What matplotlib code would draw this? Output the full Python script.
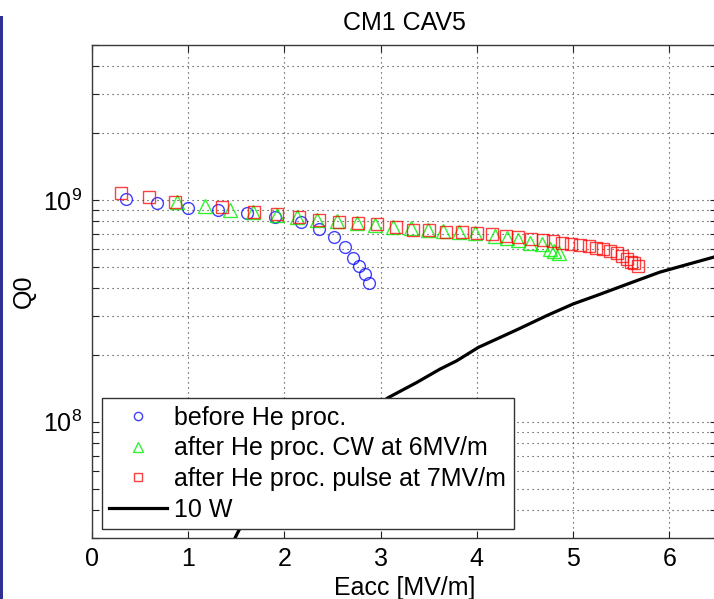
import matplotlib
matplotlib.use("Agg")
import matplotlib.pyplot as plt
from matplotlib.ticker import LogLocator, NullFormatter, FixedLocator
from matplotlib.patches import Rectangle

plt.rcParams['font.family'] = ['Liberation Sans', 'DejaVu Sans']
plt.rcParams['mathtext.fontset'] = 'custom'
plt.rcParams['mathtext.rm'] = 'Liberation Sans'
plt.rcParams['mathtext.it'] = 'Liberation Sans:italic'
plt.rcParams['mathtext.bf'] = 'Liberation Sans:bold'

# ---- data ----
before_x = [0.35, 0.68, 0.995, 1.313, 1.611, 1.905, 2.169, 2.363, 2.516, 2.633, 2.71, 2.779, 2.841, 2.883]
before_q = [1.01e9, 0.972e9, 0.923e9, 0.901e9, 0.876e9, 0.835e9, 0.797e9, 0.741e9, 0.678e9, 0.611e9,
            0.550e9, 0.502e9, 0.462e9, 0.422e9]

cw_x = [0.88, 1.175, 1.435, 1.677, 1.92, 2.128, 2.336, 2.55, 2.751, 2.94, 3.13, 3.313, 3.496, 3.652,
        3.818, 3.981, 4.19, 4.31, 4.43, 4.553, 4.675, 4.76, 4.80, 4.85]
cw_q = [0.976e9, 0.939e9, 0.901e9, 0.882e9, 0.858e9, 0.835e9, 0.811e9, 0.803e9, 0.789e9, 0.773e9,
        0.757e9, 0.745e9, 0.736e9, 0.724e9, 0.715e9, 0.707e9, 0.687e9, 0.674e9, 0.659e9, 0.643e9,
        0.630e9, 0.604e9, 0.590e9, 0.575e9]

pulse_x = [0.305, 0.593, 0.866, 1.355, 1.687, 1.926, 2.155, 2.363, 2.571, 2.768, 2.966, 3.16, 3.34,
           3.507, 3.677, 3.849, 4.002, 4.155, 4.304, 4.432, 4.567, 4.692, 4.789, 4.886, 4.983, 5.073,
           5.163, 5.239, 5.315, 5.385, 5.454, 5.506, 5.558, 5.600, 5.637, 5.679]
pulse_q = [1.076e9, 1.028e9, 0.982e9, 0.930e9, 0.885e9, 0.861e9, 0.837e9, 0.815e9, 0.797e9, 0.788e9,
           0.776e9, 0.752e9, 0.736e9, 0.729e9, 0.721e9, 0.714e9, 0.709e9, 0.699e9, 0.687e9, 0.678e9,
           0.668e9, 0.659e9, 0.650e9, 0.643e9, 0.634e9, 0.627e9, 0.621e9, 0.610e9, 0.600e9, 0.589e9,
           0.577e9, 0.561e9, 0.542e9, 0.524e9, 0.518e9, 0.503e9]

w10_x = [1.45, 1.53, 2.30, 3.080, 3.375, 3.617, 3.791, 4.016, 4.207, 4.449, 4.727, 5.003, 5.246,
         5.593, 5.904, 6.216, 6.466, 6.5]
w10_q = [2.78e7, 3.26e7, 7.3e7, 1.285e8, 1.503e8, 1.727e8, 1.883e8, 2.164e8, 2.361e8, 2.638e8,
         3.01e8, 3.40e8, 3.71e8, 4.22e8, 4.73e8, 5.16e8, 5.53e8, 5.58e8]

labels = ["before He proc.", "after He proc. CW at 6MV/m",
          "after He proc. pulse at 7MV/m", "10 W"]
x_ticks = [0, 1, 2, 3, 4, 5, 6]

# ---- figure ----
W, H = 714, 599
fig = plt.figure(figsize=(W / 100, H / 100), dpi=100)
fig.add_artist(Rectangle((0, 0), 3 / W, (H - 16) / H, transform=fig.transFigure,
                         facecolor='#2E3192', edgecolor='none'))

ax_l, ax_r, ax_t, ax_b = 92, 717.3, 45, 537.7
ax = fig.add_axes([ax_l / W, 1 - ax_b / H, (ax_r - ax_l) / W, (ax_b - ax_t) / H])

FS = 18
ms = 8.5
mew = 1.0
ax.plot(before_x, before_q, linestyle='none', marker='o', ms=ms, mfc='none', mec='#0000ff',
        mew=mew, alpha=0.75, label=labels[0])
ax.plot(cw_x, cw_q, linestyle='none', marker='^', ms=9.5, mfc='none', mec='#00ee00',
        mew=mew, alpha=0.8, label=labels[1])
ax.plot(pulse_x, pulse_q, linestyle='none', marker='s', ms=ms, mfc='none', mec='#ff0000',
        mew=mew, alpha=0.75, label=labels[2])
ax.plot(w10_x, w10_q, color='black', lw=2.3, label=labels[3])

ax.set_yscale('log')
ax.set_xlim(0, 6.5)
ax.set_ylim(3e7, 5e9)
ax.xaxis.set_major_locator(FixedLocator(x_ticks))
ax.yaxis.set_major_locator(LogLocator(base=10, numticks=10))
ax.yaxis.set_minor_locator(LogLocator(base=10, subs=range(2, 10), numticks=20))
ax.yaxis.set_minor_formatter(NullFormatter())

ax.tick_params(which='both', direction='in', top=True, right=True, labelsize=FS,
               colors='#222222', labelcolor='black')
ax.tick_params(which='major', length=5, width=0.8, pad=7)
ax.tick_params(which='minor', length=5, width=0.8)

grid_kw = dict(color='#333333', linestyle=(0, (1, 3.5)), linewidth=0.8)
ax.grid(True, which='major', axis='both', **grid_kw)
ax.grid(True, which='minor', axis='y', **grid_kw)
ax.set_axisbelow(True)

for s in ax.spines.values():
    s.set_color('#3a3a3a')
    s.set_linewidth(1.0)

ax.set_title("CM1 CAV5", fontsize=FS, pad=11)
ax.set_xlabel("Eacc [MV/m]", fontsize=FS, labelpad=3)
ax.set_ylabel("Q0", fontsize=FS, labelpad=5)

leg = ax.legend(loc='lower left', bbox_to_anchor=(0.0155, 0.017), borderaxespad=0,
                fontsize=FS, fancybox=False, framealpha=1, edgecolor='#333333',
                handlelength=2.3, handletextpad=0.3, labelspacing=0.27,
                borderpad=0.3, markerscale=0.7)
leg.get_frame().set_linewidth(1.0)

fig.savefig("out.png", dpi=100)
